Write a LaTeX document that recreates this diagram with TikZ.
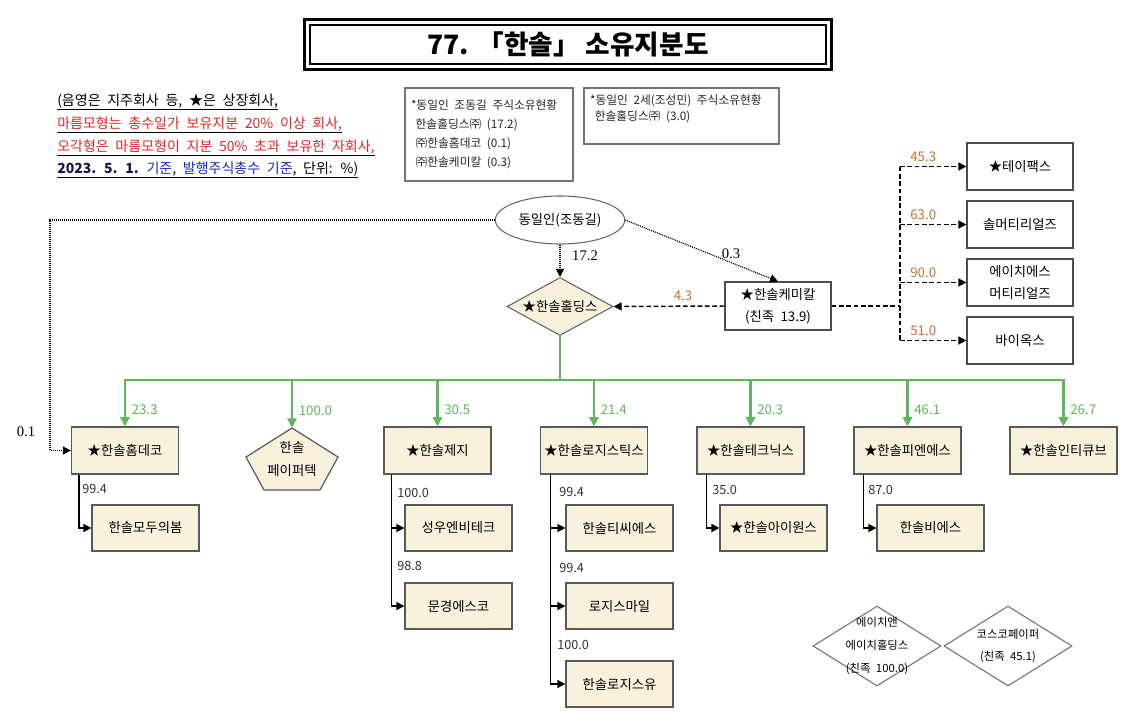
\documentclass[tikz,border=0pt]{standalone}
\usepackage{fontspec}
\setmainfont{Noto Sans CJK KR}
\newfontfamily\numfont{Liberation Serif}
\usetikzlibrary{positioning,arrows.meta,shapes.geometric,calc}

\definecolor{shade}{RGB}{248,241,220}
\definecolor{holdgreen}{RGB}{96,182,92}
\definecolor{kincol}{RGB}{205,112,48}
\definecolor{legred}{RGB}{228,38,38}
\definecolor{legblue}{RGB}{24,40,200}
\definecolor{legnavy}{RGB}{22,22,80}
\newcommand\widesp{\spaceskip=0.48em plus 0.1em\relax}

\begin{document}
\begin{tikzpicture}[x=0.75pt, y=-0.75pt,
  font=\fontsize{10}{12}\selectfont\widesp,
  cobox/.style={rectangle, draw=black!65, line width=0.9pt, fill=shade,
                minimum width=80.25pt, minimum height=35.25pt, inner sep=1pt, align=center},
  subbox/.style={cobox, minimum height=34.5pt},
  affbox/.style={rectangle, draw=black!70, line width=0.9pt, fill=white,
                 minimum width=79.5pt, minimum height=35.25pt, align=center,
                 font=\fontsize{10}{16.5}\selectfont\widesp},
  notebox/.style={rectangle, draw=black!55, line width=1.3pt, align=left,
                  inner xsep=4.5pt, inner ysep=0pt, text=black!85,
                  font=\fontsize{8.8}{14.25}\selectfont\widesp},
  kindia/.style={diamond, draw=black!55, line width=0.8pt, fill=white,
                 minimum width=96pt, minimum height=60pt, inner sep=0pt},
  kintext/.style={align=center, inner sep=0pt, font=\fontsize{8.5}{17}\selectfont\widesp},
  legline/.style={anchor=base west, inner sep=0pt, font=\fontsize{10.5}{12}\selectfont\widesp},
  gflow/.style={-{Triangle[length=7pt,width=7pt]}, draw=holdgreen, line width=2.2pt},
  gbar/.style={draw=holdgreen, line width=2.2pt, line cap=rect},
  glab/.style={text=holdgreen, inner sep=2pt, xshift=2pt},
  subflow/.style={-{Triangle[length=6pt,width=6pt]}, line width=1.1pt},
  kinflow/.style={-{Triangle[length=6pt,width=6pt]}, line width=1.1pt, dash pattern=on 3.5pt off 2pt},
  kinbar/.style={line width=1.1pt, dash pattern=on 3.5pt off 2pt},
  ownflow/.style={-{Triangle[length=6pt,width=6pt]}, line width=0.9pt, dash pattern=on 0.75pt off 0.75pt},
  numlab/.style={text=black!80, inner sep=0pt, font=\fontsize{9.5}{12}\selectfont},
  kinlab/.style={text=kincol, inner sep=0pt}
]
\fill[white] (0,0) rectangle (1136,718);
\useasboundingbox (0,0) rectangle (1136,718);

% title
\node[draw, line width=0.9pt, minimum width=387pt, minimum height=29.25pt,
      font=\fontsize{20}{24}\selectfont\bfseries] (title) at (568,44.5) {77. 「한솔」  소유지분도};
\draw[line width=2.2pt] ([shift={(-5,-5)}]title.north west) rectangle ([shift={(5,5)}]title.south east);

% legend
\node[legline] (leg1) at (57,105) {\underline{(음영은 지주회사 등, ★은 상장회사,}};
\node[legline] (leg2) at (57,128) {\underline{\textcolor{legred}{마름모형는 총수일가 보유지분 20\% 이상 회사,}}};
\node[legline] (leg3) at (57,151) {\underline{\textcolor{legred}{오각형은 마름모형이 지분 50\% 초과 보유한 자회사,}}};
\node[legline] (leg4) at (57,173) {\underline{\textcolor{legnavy}{\bfseries 2023. 5. 1.} \textcolor{legblue}{기준}, \textcolor{legblue}{발행주식총수 기준}, 단위: \%)}};

\node[notebox, text width=117pt, minimum height=69.75pt] (note1) at (489,134.5)
  {\widesp *동일인 조동길 주식소유현황\\\hspace*{3.5pt}한솔홀딩스㈜ (17.2)\\\hspace*{3.5pt}㈜한솔홈데코 (0.1)\\\hspace*{3.5pt}㈜한솔케미칼 (0.3)};
\node[notebox, text width=137pt, minimum height=42pt, font=\fontsize{8.8}{12}\selectfont\widesp] (note2) at (681.5,116)
  {\widesp *동일인 2세(조성민) 주식소유현황\\\hspace*{3.5pt}한솔홀딩스㈜ (3.0)\\\mbox{}};

% owner, holding, chemical
\node[ellipse, draw=black!60, line width=0.8pt, minimum width=81pt, minimum height=36pt] (owner) at (560,220) {동일인(조동길)};
\node[diamond, draw=black!60, line width=0.8pt, fill=shade, aspect=1.8, inner sep=0pt,
      minimum width=79.5pt, minimum height=43.5pt] (hold) at (560,306.5) {★한솔홀딩스};
\node[affbox, minimum height=36pt] (chem) at (778,306) {★한솔케미칼\\(친족 13.9)};

% chemical affiliates
\node[affbox] (tpx)  at (1020,166.5) {★테이팩스};
\node[affbox] (solm) at (1020,224.5) {솔머티리얼즈};
\node[affbox] (hsm)  at (1020,282.5) {에이치에스\\머티리얼즈};
\node[affbox] (biox) at (1020,340.5) {바이옥스};

% subsidiaries of the holding
\node[cobox] (hdc)   at (125,450.5)   {★한솔홈데코};
\draw[draw=black!65, line width=0.9pt, fill=shade] (292,428) -- (338,457) -- (320,490) -- (264,490) -- (246,457) -- cycle;
\node[inner sep=0pt, minimum width=69pt, minimum height=46.5pt, align=center,
      font=\fontsize{10}{17}\selectfont] (ppt) at (292,459) {한솔\\페이퍼텍};
\node[cobox] (paper) at (437.5,450.5) {★한솔제지};
\node[cobox] (logis) at (594,450.5)   {★한솔로지스틱스};
\node[cobox] (tech)  at (750.5,450.5) {★한솔테크닉스};
\node[cobox] (pns)   at (907.5,450.5) {★한솔피엔에스};
\node[cobox] (intc)  at (1063.5,450.5) {★한솔인티큐브};

% second tier
\node[subbox] (mdb)   at (145.5,528) {한솔모두의봄};
\node[subbox] (swe)   at (458.5,528) {성우엔비테크};
\node[subbox] (mks)   at (458.5,606) {문경에스코};
\node[subbox] (tcs)   at (619.5,528) {한솔티씨에스};
\node[subbox] (lsm)   at (619.5,606) {로지스마일};
\node[subbox] (lsu)   at (619.5,684) {한솔로지스유};
\node[subbox] (iones) at (773.5,528) {★한솔아이원스};
\node[subbox] (hbs)   at (930.5,528) {한솔비에스};

% relatives' companies
\node[kindia] (hnh) at (877,646) {};
\node[kintext] (hnhtxt) at (hnh) {에이치앤\\에이치홀딩스\\(친족 100.0)};
\node[kindia] (cosco) at (1008,646) {};
\node[kintext] (coscotxt) at (cosco) {코스코페이퍼\\(친족 45.1)};

% owner links
\draw[ownflow] (owner.south) -- (hold.north);
\node[inner sep=0pt, font=\numfont\fontsize{11}{12}\selectfont] (l172) at (585,256) {17.2};
\draw[ownflow] (owner.east) -- (chem.north);
\node[inner sep=0pt, font=\numfont\fontsize{11}{12}\selectfont] (l03) at (731,254) {0.3};
\coordinate (lrail) at (50,450.5);
\draw[ownflow] (owner.west) -| (lrail) -- (hdc.west);
\node[inner sep=0pt, font=\numfont\fontsize{11}{12}\selectfont] (l01) at (26,432) {0.1};

% chemical links
\draw[kinflow] (chem.west) -- (hold.east);
\node[kinlab] at (683,296) {4.3};
\coordinate (rbus) at (900,306);
\draw[kinbar] (chem.east) -- (rbus);
\draw[kinbar] (rbus |- tpx.west) -- (rbus |- biox.west);
\foreach \n/\v in {tpx/45.3, solm/63.0, hsm/90.0, biox/51.0}
  \draw[kinflow] (rbus |- \n.west) -- (\n.west) node[kinlab, pos=0.35, above=3pt] {\v};

% green holdings
\coordinate (gbus) at (560,380);
\draw[gbar] (hold.south) -- (gbus);
\draw[gbar] (hdc.north |- gbus) -- (intc.north |- gbus);
\foreach \c/\v in {hdc/23.3, ppt/100.0, paper/30.5, logis/21.4, tech/20.3, pns/46.1, intc/26.7}
  \draw[gflow] (\c.north |- gbus) -- (\c.north) node[glab, pos=0.64, right] {\v};

% second-tier links
\draw[subflow] ([xshift=6pt]hdc.south west) |- (mdb.west);
\draw[subflow] ([xshift=6pt]paper.south west) |- (swe.west);
\draw[subflow] ([xshift=6pt]paper.south west) |- (mks.west);
\draw[subflow] ([xshift=8pt]logis.south west) |- (tcs.west);
\draw[subflow] ([xshift=8pt]logis.south west) |- (lsm.west);
\draw[subflow] ([xshift=8pt]logis.south west) |- (lsu.west);
\draw[subflow] ([xshift=7.5pt]tech.south west) |- (iones.west);
\draw[subflow] ([xshift=7.5pt]pns.south west) |- (hbs.west);
\node[numlab, anchor=west] at (82,489) {99.4};
\node[numlab, anchor=west] at (397,493) {100.0};
\node[numlab, anchor=west] at (397,566) {98.8};
\node[numlab, anchor=west] at (559,492) {99.4};
\node[numlab, anchor=west] at (559,568) {99.4};
\node[numlab, anchor=west] at (557,645) {100.0};
\node[numlab, anchor=west] at (712,490) {35.0};
\node[numlab, anchor=west] at (868,490) {87.0};
\end{tikzpicture}
\end{document}
